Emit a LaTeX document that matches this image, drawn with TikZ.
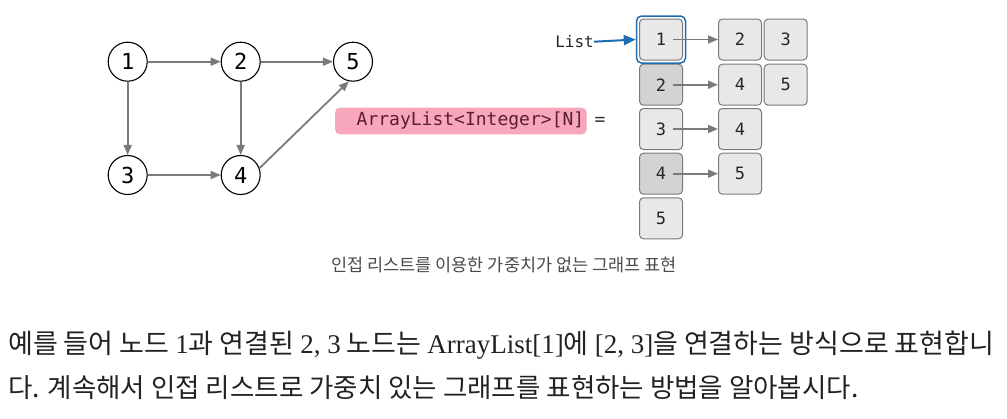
\documentclass[tikz,border=0pt]{standalone}
\usepackage{fontspec}
\setmainfont{Liberation Serif}
\newfontfamily\kr{Noto Sans CJK KR}
\newfontfamily\mono{DejaVu Sans Mono}
\usetikzlibrary{arrows.meta,fit}
\definecolor{edgegray}{HTML}{7A7A7A}
\definecolor{boxfill}{HTML}{E8E8E8}
\definecolor{boxdark}{HTML}{D3D3D3}
\definecolor{boxline}{HTML}{7A7A7A}
\definecolor{listblue}{HTML}{1F6DB0}
\definecolor{pinkbg}{HTML}{F8A6BB}
\definecolor{pinktext}{HTML}{5A1D33}
\definecolor{captiongray}{HTML}{4A4A4A}
\definecolor{bodytext}{HTML}{222222}
\begin{document}
\begin{tikzpicture}[x=1pt,y=-1pt,
  vertex/.style={circle,draw=black,line width=1.1pt,minimum size=39pt,inner sep=0pt,
    font=\mono\fontsize{22}{26}\selectfont},
  edge/.style={draw=edgegray,line width=1.8pt,-{Triangle[length=10pt,width=8pt]}},
  cell/.style={rectangle,rounded corners=4pt,draw=boxline,line width=1pt,fill=boxfill,
    minimum width=43pt,minimum height=41pt,inner sep=0pt,
    font=\mono\fontsize{17}{20}\selectfont,text=black!85},
  darkcell/.style={cell,fill=boxdark},
  link/.style={draw=edgegray,line width=1.8pt,-{Triangle[length=10pt,width=8pt]},shorten <=12pt},
  body/.style={anchor=base west,inner sep=0pt,text=bodytext}
]
\useasboundingbox (0,0) rectangle (1007,418);

% graph
\node[vertex] (n1) at (127.7,61.7) {1};
\node[vertex] (n2) at (240.7,61.7) {2};
\node[vertex] (n5) at (353,61.7) {5};
\node[vertex] (n3) at (127.7,175) {3};
\node[vertex] (n4) at (240.7,175) {4};
\draw[edge] (n1) -- (n2);
\draw[edge] (n2) -- (n5);
\draw[edge] (n1) -- (n3);
\draw[edge] (n2) -- (n4);
\draw[edge] (n3) -- (n4);
\draw[edge] (n4.20) -- (n5.258);

% ArrayList label
\fill[pinkbg,rounded corners=5pt] (335,107.7) rectangle (586.7,134.3);
\node[anchor=west,inner sep=0pt,text=pinktext,font=\mono\fontsize{18}{21}\selectfont] (al) at (356.5,121) {ArrayList<Integer>[N]};
\node[inner sep=0pt,font=\mono\fontsize{18}{21}\selectfont,text=black!80] (eq) at (600,121) {=};

% adjacency lists
\node[cell] (a1) at (661,39.5) {1};
\node[darkcell] (a2) at (661,84.7) {2};
\node[cell] (a3) at (661,129) {3};
\node[darkcell] (a4) at (661,173.7) {4};
\node[cell] (a5) at (661,218.3) {5};

\node[cell] (b1) at (740,39.5) {2};
\node[cell] (c1) at (785.7,39.5) {3};
\node[cell] (b2) at (740,84.7) {4};
\node[cell] (c2) at (785.7,84.7) {5};
\node[cell] (b3) at (740,129) {4};
\node[cell] (b4) at (740,173.7) {5};

\node[fit=(a1),inner sep=2.5pt,draw=listblue,line width=1.5pt,rounded corners=5pt] (hl) {};

\draw[link] (a1.center) -- (b1.west);
\draw[link] (a2.center) -- (b2.west);
\draw[link] (a3.center) -- (b3.west);
\draw[link] (a4.center) -- (b4.west);

\node[anchor=east,inner sep=0pt,font=\mono\fontsize{16}{19}\selectfont,text=black!85] (list) at (594,41.7) {List};
\draw[draw=listblue,line width=2pt,-{Triangle[length=12pt,width=10pt]}] (list.east) -- (hl.west);

% caption
\node[anchor=base,inner sep=0pt,text=captiongray,font=\kr\fontsize{17.5}{21}\selectfont] (cap) at (504,271) {인접 리스트를 이용한 가중치가 없는 그래프 표현};

% body text
\node[body,font=\fontsize{27}{32}\selectfont] (l1) at (8,353) {{\kr 예를 들어 노드 }1{\kr 과 연결된 }2, 3{\kr\ 노드는 }ArrayList[1]{\kr 에 }[2, 3]{\kr 을 연결하는 방식으로 표현합니}};
\node[body,font=\fontsize{26.5}{32}\selectfont] (l2) at (8,397) {{\kr 다. 계속해서 인접 리스트로 가중치 있는 그래프를 표현하는 방법을 알아봅시다.}};
\end{tikzpicture}
\end{document}
